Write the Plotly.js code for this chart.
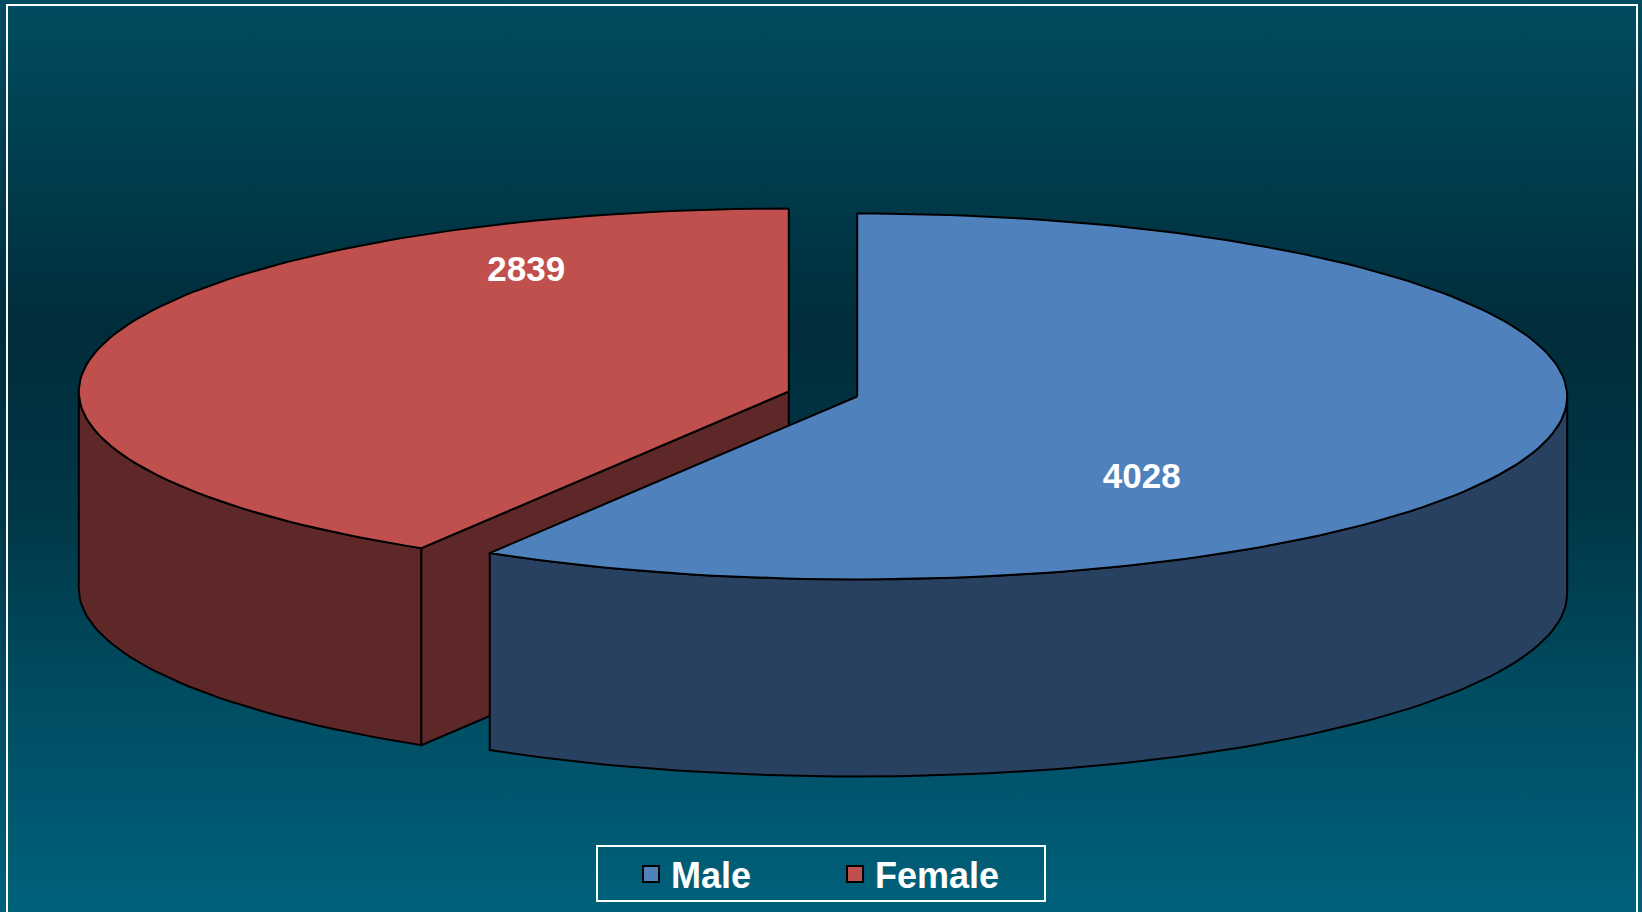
<!DOCTYPE html>
<html>
<head>
<meta charset="utf-8">
<script src="https://cdn.plot.ly/plotly-3.0.1.min.js"></script>
<style>
  html, body { margin: 0; padding: 0; }
  body {
    width: 1642px; height: 912px; overflow: hidden;
    background: linear-gradient(to bottom, #004c60 0%, #003d4e 18%, #002d3b 36%, #003646 55%, #004e64 78%, #00617b 100%);
  }
</style>
</head>
<body>
<div id="pie"></div>
<script>
// pie values
var categories = ["Male", "Female"];
var counts = [4028, 2839];
var topColors = ["#4f81bd", "#c0504d"];
var wallColors = ["#284160", "#5e2728"];

// fake 3d geometry (pixels)
var cx = 823, cy = 394;
var rx = 710, ry = 183, depth = 197;
var explode = 0.05;
var N = 240;

var total = counts.reduce(function (s, v) { return s + v; }, 0);

function rim(c, t) {
  return [c[0] + rx * Math.sin(t), c[1] - ry * Math.cos(t)];
}

function arc(c, t0, t1, dy) {
  var xs = [], ys = [];
  var n = Math.max(2, Math.ceil(N * Math.abs(t1 - t0) / (2 * Math.PI)));
  for (var i = 0; i <= n; i++) {
    var p = rim(c, t0 + (t1 - t0) * i / n);
    xs.push(p[0]);
    ys.push(p[1] + dy);
  }
  return [xs, ys];
}

function poly(xs, ys, color) {
  return {
    x: xs, y: ys, mode: "lines", type: "scatter", fill: "toself",
    fillcolor: color, line: {color: "black", width: 2},
    showlegend: false, hoverinfo: "skip"
  };
}

// slices, clockwise from 12 o'clock
var slices = [];
var start = 0;
counts.forEach(function (v, i) {
  var sweep = 2 * Math.PI * v / total;
  var mid = start + sweep / 2;
  var c = [cx + explode * rx * Math.sin(mid), cy - explode * ry * Math.cos(mid)];
  slices.push({i: i, t0: start, t1: start + sweep, mid: mid, c: c});
  start += sweep;
});

var traces = [];
// back slice first (female), then front (male)
[1, 0].forEach(function (k) {
  var s = slices[k];
  var i = s.i;
  // outer wall, only the front half (pi/2 .. 3pi/2) shows
  var w0 = Math.max(s.t0, Math.PI / 2), w1 = Math.min(s.t1, 3 * Math.PI / 2);
  if (w1 > w0) {
    var up = arc(s.c, w0, w1, 0), dn = arc(s.c, w1, w0, depth);
    traces.push(poly(up[0].concat(dn[0], [up[0][0]]), up[1].concat(dn[1], [up[1][0]]), wallColors[i]));
  }
  // cut face at the slice start shows when it lies between 6 and 9 o'clock
  if (s.t0 > Math.PI && s.t0 < 1.5 * Math.PI) {
    var p = rim(s.c, s.t0);
    traces.push(poly(
      [s.c[0], p[0], p[0], s.c[0], s.c[0]],
      [s.c[1], p[1], p[1] + depth, s.c[1] + depth, s.c[1]],
      wallColors[i]));
  }
  // top face
  var a = arc(s.c, s.t0, s.t1, 0);
  traces.push(poly([s.c[0]].concat(a[0], [s.c[0]]), [s.c[1]].concat(a[1], [s.c[1]]), topColors[i]));
});

// value labels
traces.push({
  x: slices.map(function (s) { return s.c[0] + 0.4 * rx * Math.sin(s.mid) + 11; }),
  y: slices.map(function (s) { return s.c[1] - 2.06 * ry * Math.cos(s.mid) - 18; }),
  text: counts.map(String),
  mode: "text", type: "scatter", showlegend: false, hoverinfo: "skip",
  textfont: {family: "Arial, Liberation Sans", size: 35, color: "white", weight: "bold"}
});

// legend entries
categories.forEach(function (name, i) {
  traces.push({
    x: [null], y: [null], mode: "markers", type: "scatter", name: name,
    marker: {symbol: "square", size: 16, color: topColors[i], line: {color: "black", width: 2}}
  });
});

var layout = {
  width: 1642, height: 912,
  margin: {l: 0, r: 0, t: 0, b: 0},
  paper_bgcolor: "rgba(0,0,0,0)",
  plot_bgcolor: "rgba(0,0,0,0)",
  xaxis: {range: [0, 1642], visible: false, fixedrange: true},
  yaxis: {range: [912, 0], visible: false, fixedrange: true},
  hovermode: false,
  showlegend: true,
  legend: {
    orientation: "h", x: 631 / 1642, y: 1 - 874 / 912, xanchor: "left", yanchor: "middle",
    bgcolor: "rgba(0,0,0,0)", borderwidth: 0,
    entrywidth: 159, entrywidthmode: "pixels",
    font: {family: "Arial, Liberation Sans", size: 36, color: "white", weight: "bold"}
  },
  shapes: [
    {type: "rect", xref: "x", yref: "y", x0: 7, x1: 1637, y0: 5, y1: 940,
     line: {color: "white", width: 2}, layer: "below"},
    // legend frame
    {type: "rect", xref: "x", yref: "y", x0: 597, x1: 1045, y0: 846, y1: 901,
     line: {color: "white", width: 2}, layer: "below"}
  ]
};

Plotly.newPlot("pie", traces, layout, {displayModeBar: false, staticPlot: true});
</script>
</body>
</html>
